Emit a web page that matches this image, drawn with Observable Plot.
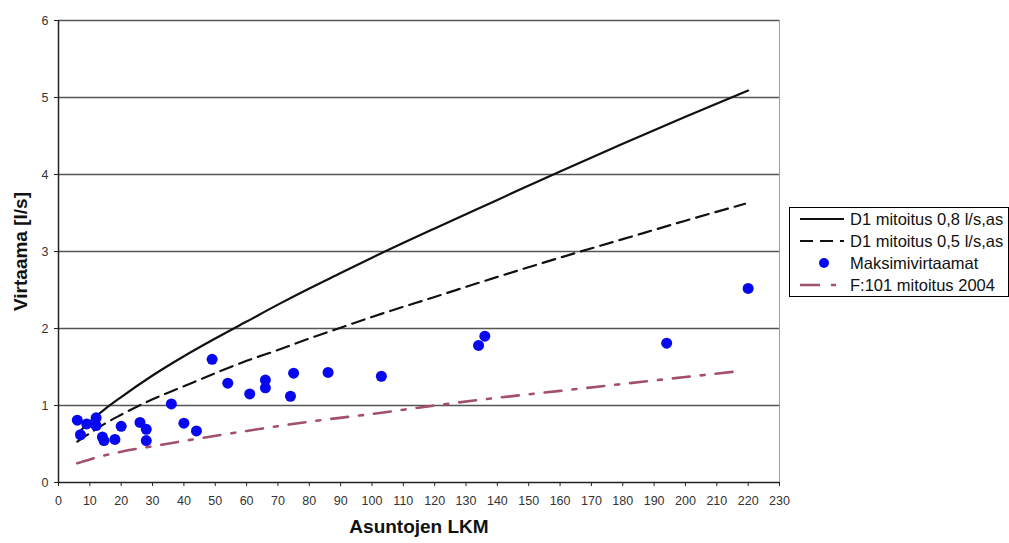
<!DOCTYPE html>
<html>
<head>
<meta charset="utf-8">
<script src="https://cdn.jsdelivr.net/npm/d3@7"></script>
<script src="https://cdn.jsdelivr.net/npm/@observablehq/plot@0.6"></script>
<style>
  html, body { margin: 0; padding: 0; background: #fff; }
  #wrap { position: relative; width: 1009px; height: 543px; font-family: "Liberation Sans", Arial, sans-serif; }
  #legend { position: absolute; left: 789px; top: 207px; width: 220px; height: 90px; border: 1px solid #000; background: #fff; box-sizing: border-box; padding-top: 0px; white-space: nowrap; }
  .row { display: flex; align-items: center; height: 22px; font-size: 16.5px; color: #111; }
  .row svg { width: 50px; height: 14px; flex: none; margin-left: 8px; margin-right: 2px; }
</style>
</head>
<body>
<div id="wrap"></div>
<script>
// ---- data ----
const xTicks = d3.range(0, 231, 10);
const yTicks = [0, 1, 2, 3, 4, 5, 6];

const seriesNames = ["D1 mitoitus 0,8 l/s,as", "D1 mitoitus 0,5 l/s,as", "Maksimivirtaamat", "F:101 mitoitus 2004"];

const d1HighX = [6, 10, 15, 20, 30, 40, 50, 60, 70, 80, 90, 100, 120, 140, 160, 180, 200, 220];
const d1HighY = [0.63, 0.79, 0.96, 1.11, 1.39, 1.64, 1.87, 2.09, 2.31, 2.52, 2.72, 2.92, 3.30, 3.67, 4.04, 4.40, 4.75, 5.09];

const d1LowX = [6, 10, 15, 20, 30, 40, 50, 60, 70, 80, 90, 100, 120, 140, 160, 180, 200, 219];
const d1LowY = [0.53, 0.64, 0.77, 0.88, 1.08, 1.25, 1.42, 1.58, 1.72, 1.87, 2.01, 2.15, 2.41, 2.67, 2.92, 3.16, 3.40, 3.62];

const f101X = [6, 10, 20, 30, 40, 60, 80, 100, 120, 140, 160, 180, 200, 217];
const f101Y = [0.25, 0.30, 0.40, 0.47, 0.54, 0.67, 0.79, 0.89, 1.00, 1.10, 1.19, 1.28, 1.37, 1.445];

const maxX = [6, 7, 9, 12, 12, 14, 14.5, 18, 20, 26, 28, 28, 36, 40, 44, 49, 54, 61, 66, 66, 74, 75, 86, 103, 134, 136, 194, 220];
const maxY = [0.81, 0.62, 0.76, 0.84, 0.74, 0.59, 0.545, 0.56, 0.73, 0.78, 0.69, 0.545, 1.02, 0.77, 0.67, 1.60, 1.29, 1.15, 1.33, 1.23, 1.12, 1.42, 1.43, 1.38, 1.78, 1.90, 1.81, 2.52];

const xLabel = "Asuntojen LKM";
const yLabel = "Virtaama [l/s]";

// ---- styles ----
const blue = "#0808ee";
const pink = "#a34f6e";
const zip = (xs, ys) => xs.map((x, i) => ({x, y: ys[i]}));

const chart = Plot.plot({
  width: 1009,
  height: 543,
  marginLeft: 58,
  marginRight: 230,
  marginTop: 20,
  marginBottom: 61,
  style: {fontFamily: "'Liberation Sans', Arial, sans-serif", fontSize: "12.5px", color: "#333", background: "#fff"},
  x: {domain: [0, 230]},
  y: {domain: [0, 6]},
  marks: [
    Plot.ruleY(yTicks.filter(d => d > 0), {stroke: "#555", strokeWidth: 1.5}),
    Plot.ruleX([230], {stroke: "#a0a0a0", strokeWidth: 1}),
    Plot.axisX({ticks: xTicks, tickFormat: "d", tickSize: 4, tickPadding: 10, label: null, stroke: "#222", fill: "#333", fontSize: 12.5}),
    Plot.axisY({ticks: yTicks, tickFormat: "d", tickSize: 4, tickPadding: 6, label: null, stroke: "#222", fill: "#333", fontSize: 12.5}),
    Plot.ruleY([0], {stroke: "#222", strokeWidth: 1.5}),
    Plot.ruleX([0], {stroke: "#222", strokeWidth: 1.5}),
    Plot.line(zip(f101X, f101Y), {x: "x", y: "y", stroke: pink, strokeWidth: 2.6, strokeDasharray: "17,11,4,11", curve: "monotone-x"}),
    Plot.line(zip(d1LowX, d1LowY), {x: "x", y: "y", stroke: "#111", strokeWidth: 2.2, strokeDasharray: "13,7", curve: "monotone-x"}),
    Plot.line(zip(d1HighX, d1HighY), {x: "x", y: "y", stroke: "#111", strokeWidth: 2.2, curve: "monotone-x"}),
    Plot.dot(zip(maxX, maxY), {x: "x", y: "y", r: 5.5, fill: blue, stroke: "none"}),
    Plot.text([xLabel], {frameAnchor: "bottom", dy: 50, fontSize: 19, fontWeight: "bold", fill: "#111"}),
    Plot.text([yLabel], {frameAnchor: "left", textAnchor: "middle", dx: -38, rotate: -90, fontSize: 19, fontWeight: "bold", fill: "#111"})
  ]
});

const wrap = document.getElementById("wrap");
wrap.appendChild(chart);

// ---- legend ----
const swatches = [
  `<line x1="2" y1="7" x2="46" y2="7" stroke="#111" stroke-width="2.2"/>`,
  `<line x1="2" y1="7" x2="46" y2="7" stroke="#111" stroke-width="2.2" stroke-dasharray="13,7"/>`,
  `<circle cx="26" cy="7" r="5" fill="${blue}"/>`,
  `<line x1="2" y1="7" x2="46" y2="7" stroke="${pink}" stroke-width="2.6" stroke-dasharray="20,11,5,20"/>`
];
const legend = document.createElement("div");
legend.id = "legend";
legend.innerHTML = seriesNames.map((n, i) =>
  `<div class="row"><svg viewBox="0 0 50 14">${swatches[i]}</svg><span>${n}</span></div>`).join("");
wrap.appendChild(legend);
</script>
</body>
</html>
